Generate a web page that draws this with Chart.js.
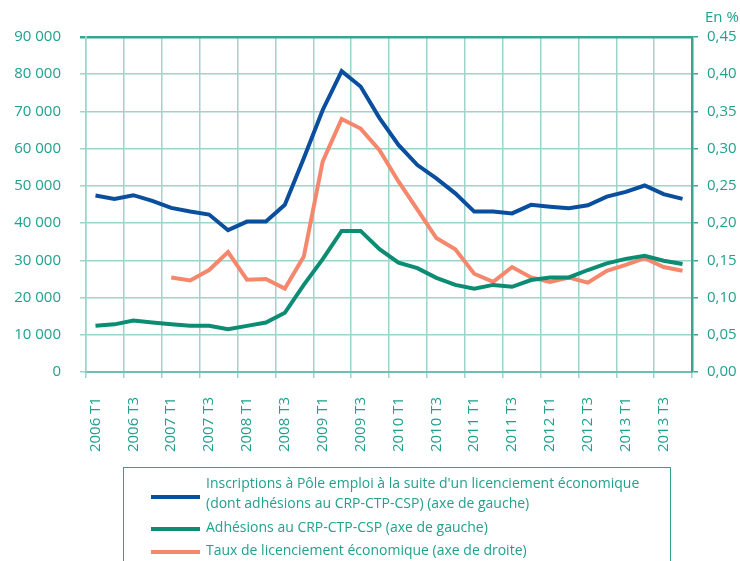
<!DOCTYPE html>
<html>
<head>
<meta charset="utf-8">
<script src="https://cdn.jsdelivr.net/npm/chart.js@4/dist/chart.umd.min.js"></script>
<style>
  html, body { margin: 0; padding: 0; background: #fff; }
  #wrap { position: relative; width: 740px; height: 561px; overflow: hidden; font-family: "Open Sans", sans-serif; }
  #c { position: absolute; left: 0; top: 0; }
  #unit { position: absolute; left: 705px; top: 6px; font-size: 15px; color: #22a08e; }
  #legend { position: absolute; left: 123px; top: 467px; width: 548px; height: 120px; border: 1.5px solid #2ea390; box-sizing: border-box; color: #22a08e; font-size: 14px; }
  .swatch { position: absolute; left: 27px; width: 49px; height: 4px; }
  .txt { position: absolute; left: 82px; white-space: nowrap; line-height: 20px; }
</style>
</head>
<body>
<div id="wrap">
  <canvas id="c" width="740" height="561"></canvas>
  <div id="unit">En %</div>
  <div id="legend">
    <div class="swatch" style="top:27px;background:#0a4f9e"></div>
    <div class="txt" style="top:5px">Inscriptions à Pôle emploi à la suite d'un licenciement économique<br>(dont adhésions au CRP-CTP-CSP) (axe de gauche)</div>
    <div class="swatch" style="top:59px;background:#0b8c73"></div>
    <div class="txt" style="top:49px">Adhésions au CRP-CTP-CSP (axe de gauche)</div>
    <div class="swatch" style="top:82px;background:#f4876c"></div>
    <div class="txt" style="top:72px">Taux de licenciement économique (axe de droite)</div>
  </div>
</div>
<script>
const quarters = [
  '2006 T1','2006 T2','2006 T3','2006 T4',
  '2007 T1','2007 T2','2007 T3','2007 T4',
  '2008 T1','2008 T2','2008 T3','2008 T4',
  '2009 T1','2009 T2','2009 T3','2009 T4',
  '2010 T1','2010 T2','2010 T3','2010 T4',
  '2011 T1','2011 T2','2011 T3','2011 T4',
  '2012 T1','2012 T2','2012 T3','2012 T4',
  '2013 T1','2013 T2','2013 T3','2013 T4'
];
const inscriptions = [
  47400, 46500, 47500, 46000, 44100, 43100, 42300, 38100,
  40400, 40400, 44900, 57400, 70400, 80800, 76700, 68200,
  61000, 55600, 52000, 48000, 43100, 43100, 42600, 44900,
  44400, 44000, 44800, 47100, 48400, 50100, 47800, 46500
];
const adhesions = [
  12400, 12800, 13800, 13300, 12800, 12400, 12400, 11500,
  12400, 13300, 15900, 23400, 30300, 37900, 37900, 33000,
  29400, 27900, 25300, 23400, 22400, 23400, 22900, 24700,
  25400, 25400, 27400, 29200, 30400, 31200, 29900, 29000
];
const tauxLicenciement = [
  null, null, null, null, 0.127, 0.123, 0.137, 0.161,
  0.124, 0.125, 0.112, 0.155, 0.283, 0.340, 0.327, 0.298,
  0.256, 0.218, 0.180, 0.165, 0.132, 0.121, 0.141, 0.127,
  0.121, 0.127, 0.120, 0.136, 0.144, 0.153, 0.141, 0.136
];

const TEAL = '#22a08e';
const GRID = '#9dd4cb';
const DARK = '#3aa493';
const font = { family: 'Open Sans', size: 15 };

new Chart(document.getElementById('c'), {
  type: 'line',
  data: {
    labels: quarters,
    datasets: [
      { label: 'Inscriptions', data: inscriptions, yAxisID: 'y', borderColor: '#0a4f9e', borderWidth: 4, pointRadius: 0, tension: 0 },
      { label: 'Adhésions', data: adhesions, yAxisID: 'y', borderColor: '#0b8c73', borderWidth: 4, pointRadius: 0, tension: 0 },
      { label: 'Taux', data: tauxLicenciement, yAxisID: 'y1', borderColor: '#f4876c', borderWidth: 4, pointRadius: 0, tension: 0, spanGaps: false }
    ]
  },
  options: {
    responsive: false,
    animation: false,
    layout: { padding: { top: 37, left: 0, right: 0, bottom: 0 } },
    plugins: { legend: { display: false }, tooltip: { enabled: false } },
    scales: {
      x: {
        offset: true,
        grid: {
          offset: true,
          color: (ctx) => (ctx.index === undefined || ctx.index % 2 === 0) ? GRID : 'rgba(0,0,0,0)',
          lineWidth: 1.5,
          tickLength: 6
        },
        border: { color: '#6cc0b3', width: 2 },
        ticks: {
          autoSkip: false,
          minRotation: 90,
          maxRotation: 90,
          padding: 19,
          color: TEAL,
          font: font,
          callback: function (v, i) { return i % 2 === 0 ? this.getLabelForValue(v) : ''; }
        },
        afterFit: (s) => { s.height = 561 - 372; }
      },
      y: {
        position: 'left',
        min: 0, max: 90000,
        grid: {
          color: (ctx) => (ctx.tick && ctx.tick.value === 90000) ? DARK : GRID,
          lineWidth: (ctx) => (ctx.tick && ctx.tick.value === 90000) ? 2.5 : 1.5,
          tickLength: 6
        },
        border: { color: GRID, width: 1.5 },
        ticks: {
          stepSize: 10000,
          padding: 19,
          color: TEAL,
          font: font,
          callback: (v) => String(v).replace(/\B(?=(\d{3})+(?!\d))/g, ' ')
        },
        afterFit: (s) => { s.width = 86; }
      },
      y1: {
        position: 'right',
        min: 0, max: 0.45,
        grid: { drawOnChartArea: false, color: DARK, lineWidth: 1.5, tickLength: 6 },
        border: { color: DARK, width: 2.5 },
        ticks: {
          stepSize: 0.05,
          padding: 9,
          color: TEAL,
          font: font,
          callback: (v) => v.toFixed(2).replace('.', ',')
        },
        afterFit: (s) => { s.width = 48; }
      }
    }
  }
});
</script>
</body>
</html>
